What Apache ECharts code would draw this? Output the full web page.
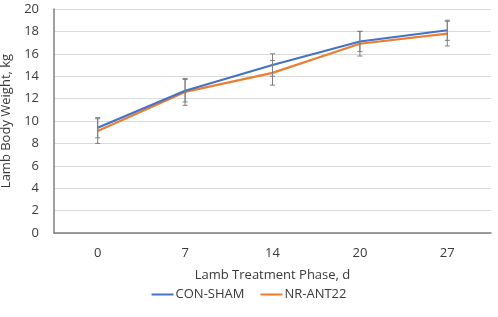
<!DOCTYPE html>
<html>
<head>
<meta charset="utf-8">
<script src="https://cdn.jsdelivr.net/npm/echarts@6/dist/echarts.min.js"></script>
<style>
  html, body { margin: 0; padding: 0; background: #fff; }
  #chart { width: 498px; height: 317px; }
</style>
</head>
<body>
<div id="chart"></div>
<script>
const days = ['0', '7', '14', '20', '27'];
const conSham = [9.4, 12.7, 15.0, 17.1, 18.1];
const conShamErr = [0.9, 1.0, 1.0, 0.9, 0.9];
const nrAnt22 = [9.1, 12.6, 14.3, 16.9, 17.8];
const nrAnt22Err = [1.1, 1.2, 1.1, 1.1, 1.1];

const FONT = '"Open Sans", sans-serif';
const TEXT = '#3a3a3a';
const chart = echarts.init(document.getElementById('chart'));

function errorSeries(name, vals, errs) {
  return {
    type: 'custom',
    name: name + ' err',
    z: 5,
    silent: true,
    data: vals.map((v, i) => [i, v - errs[i], v + errs[i]]),
    renderItem: (params, api) => {
      const lo = api.coord([api.value(0), api.value(1)]);
      const hi = api.coord([api.value(0), api.value(2)]);
      const w = 2.5;
      const style = { stroke: '#7f7f7f', lineWidth: 1 };
      return {
        type: 'group',
        children: [
          { type: 'line', shape: { x1: lo[0], y1: lo[1], x2: hi[0], y2: hi[1] }, style },
          { type: 'line', shape: { x1: lo[0] - w, y1: lo[1], x2: lo[0] + w, y2: lo[1] }, style },
          { type: 'line', shape: { x1: hi[0] - w, y1: hi[1], x2: hi[0] + w, y2: hi[1] }, style },
        ],
      };
    },
  };
}

chart.setOption({
  animation: false,
  textStyle: { fontFamily: FONT },
  grid: { left: 54, right: 7, top: 9, bottom: 84, outerBoundsMode: 'none' },
  legend: {
    bottom: 11,
    left: 'center',
    itemWidth: 22,
    itemHeight: 2,
    itemGap: 16,
    icon: 'rect',
    data: ['CON-SHAM', 'NR-ANT22'],
    textStyle: { fontSize: 13, color: TEXT, fontFamily: FONT, padding: [0, 0, 0, -3] },
  },
  xAxis: {
    type: 'category',
    data: days,
    name: 'Lamb Treatment Phase, d',
    nameLocation: 'middle',
    nameGap: 36,
    nameTextStyle: { fontSize: 13, color: TEXT },
    axisLine: { lineStyle: { color: '#7f7f7f', width: 1.5 } },
    axisTick: { show: false },
    axisLabel: { fontSize: 13, color: TEXT, margin: 14 },
  },
  yAxis: {
    type: 'value',
    min: 0,
    max: 20,
    interval: 2,
    name: 'Lamb Body Weight, kg',
    nameLocation: 'middle',
    nameGap: 37,
    nameTextStyle: { fontSize: 13, color: TEXT },
    axisLine: { show: true, lineStyle: { color: '#7f7f7f', width: 1.5 } },
    axisTick: { show: false },
    axisLabel: { fontSize: 13, color: TEXT, margin: 15 },
    splitLine: { lineStyle: { color: '#d9d9d9', width: 1 } },
  },
  series: [
    {
      name: 'CON-SHAM',
      type: 'line',
      data: conSham,
      symbol: 'none',
      color: '#4472C4',
      lineStyle: { width: 2.2 },
      z: 3,
    },
    {
      name: 'NR-ANT22',
      type: 'line',
      data: nrAnt22,
      symbol: 'none',
      color: '#ED7D31',
      lineStyle: { width: 2.2 },
      z: 2,
    },
    errorSeries('CON-SHAM', conSham, conShamErr),
    errorSeries('NR-ANT22', nrAnt22, nrAnt22Err),
  ],
});
</script>
</body>
</html>
